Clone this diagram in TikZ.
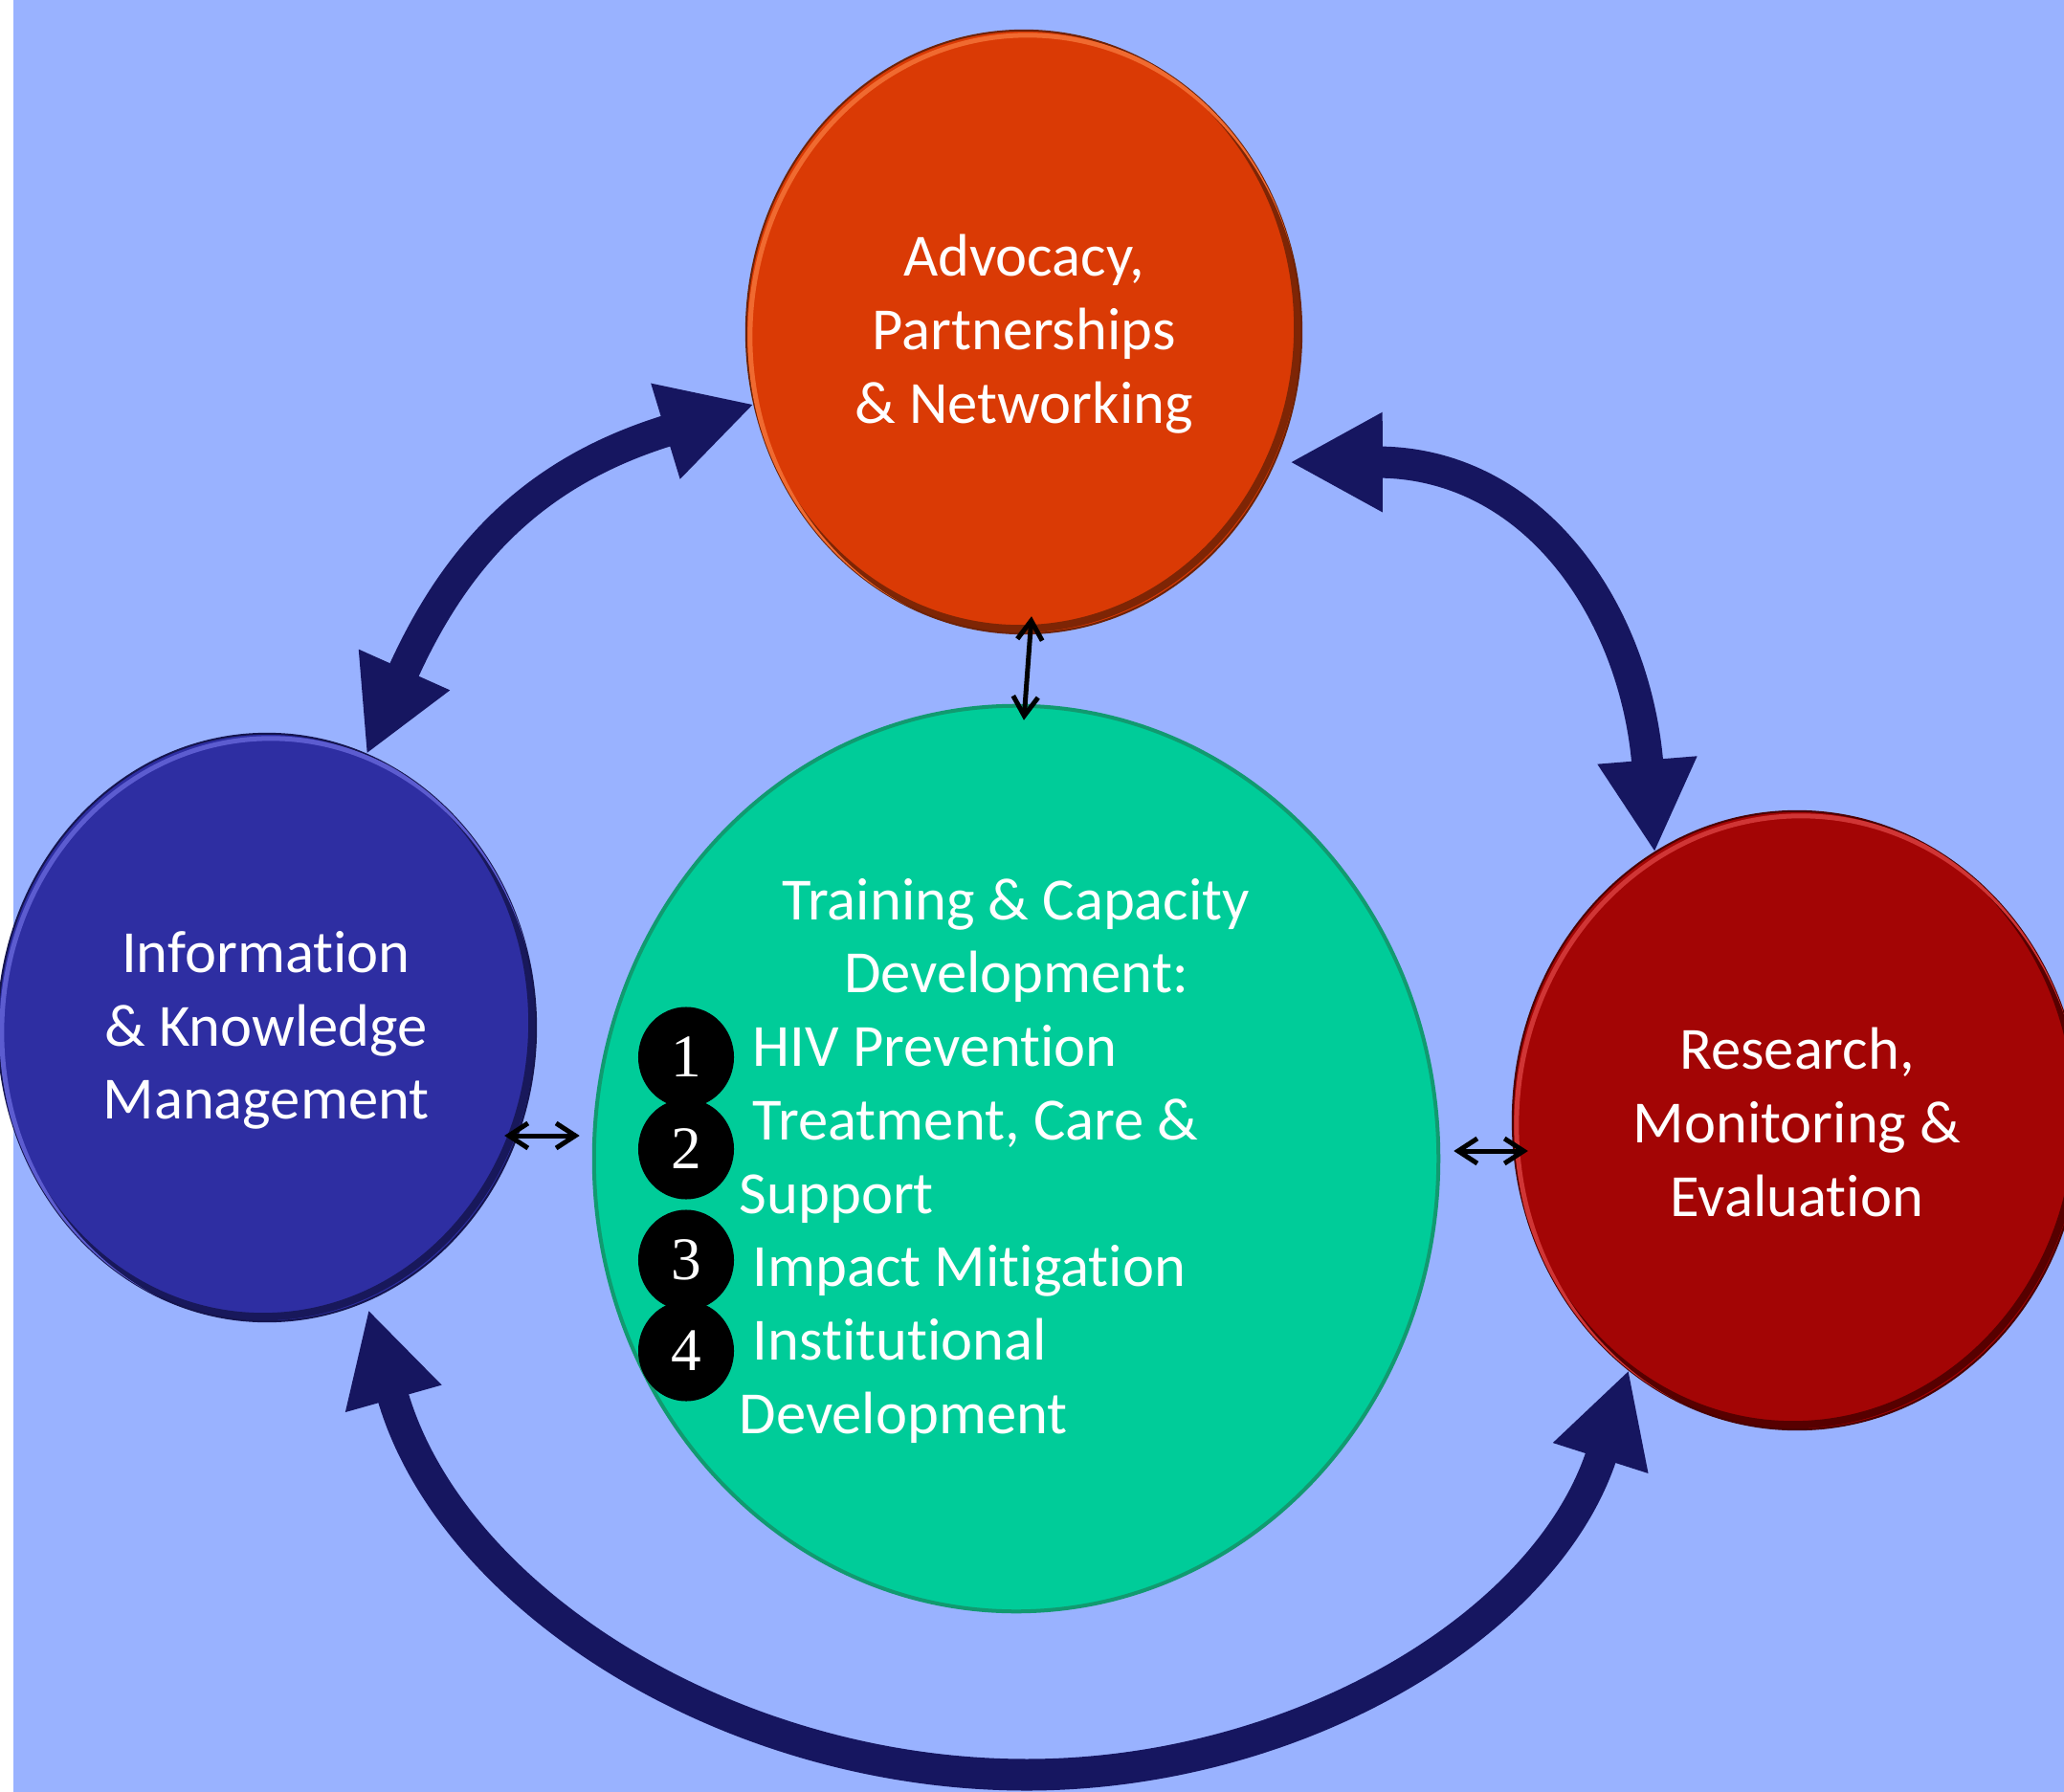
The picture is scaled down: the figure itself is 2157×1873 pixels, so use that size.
\documentclass[tikz,border=0pt]{standalone}
\usepackage{fontspec}
\setmainfont[Ligatures={NoCommon}]{Carlito}
\newfontfamily\numfont{Liberation Serif}
\usetikzlibrary{arrows.meta,calc,shapes.geometric}

\definecolor{bgblue}{HTML}{99B2FF}
\definecolor{topred}{HTML}{DA3A05}
\definecolor{toprim}{HTML}{6E2206}
\definecolor{toplight}{HTML}{F06A30}
\definecolor{leftblue}{HTML}{2E2EA2}
\definecolor{leftrim}{HTML}{15154F}
\definecolor{leftlight}{HTML}{5C5CD0}
\definecolor{rightred}{HTML}{A30505}
\definecolor{rightrim}{HTML}{4A0000}
\definecolor{rightlight}{HTML}{D03535}
\definecolor{greenfill}{HTML}{00CC99}
\definecolor{greenrim}{HTML}{119A70}
\definecolor{navy}{HTML}{161660}

\newcommand\bevelring[5]{%
  \begin{scope}
    \clip (#1.center) ellipse [x radius=#2, y radius=#3];
    \draw[#4, line width=0.08cm, opacity=0.85] ([shift={(-4,-5)}]#1.center) ellipse [x radius=#2, y radius=#3];
    \draw[#5, line width=0.05cm] ([shift={(4,5)}]#1.center) ellipse [x radius=#2, y radius=#3];
  \end{scope}}

\begin{document}
\begin{tikzpicture}[x=0.01cm,y=-0.01cm,
  bubble/.style={ellipse, outer sep=0pt, inner sep=0pt},
  txt/.style={text=white, align=center, font=\fontsize{17.8pt}{21.8pt}\selectfont, inner sep=0pt},
  bigarrow/.style={navy, line width=0.33cm, {Triangle[width=0.97cm,length=0.97cm]}-{Triangle[width=0.97cm,length=0.97cm]}},
  smallarrow/.style={black, line width=0.05cm, line cap=round, line join=round, {Straight Barb[length=0.2cm,width=0.26cm]}-{Straight Barb[length=0.2cm,width=0.26cm]}},
  numdot/.style={ellipse, fill=black, minimum width=1.0cm, minimum height=1.05cm, inner sep=0pt, text=white, font=\numfont\fontsize{18pt}{18pt}\selectfont}
]
\useasboundingbox (0,0) rectangle (2157,1873);
\clip (0,0) rectangle (2157,1873);
\fill[white] (0,0) rectangle (2157,1873);
\fill[bgblue] (14,0) rectangle (2157,1873);

% circles
\node[bubble, fill=topred, draw=toprim, line width=0.02cm, minimum width=5.8cm, minimum height=6.3cm] (apn) at (1070,347) {};
\node[bubble, fill=leftblue, draw=leftrim, line width=0.02cm, minimum width=5.62cm, minimum height=6.14cm] (ikm) at (279,1074) {};
\node[bubble, fill=rightred, draw=rightrim, line width=0.02cm, minimum width=5.94cm, minimum height=6.46cm] (rme) at (1878,1171) {};
\node[bubble, fill=greenfill, draw=greenrim, line width=0.04cm, minimum width=8.82cm, minimum height=9.46cm] (tcd) at (1062,1211) {};
\bevelring{apn}{2.9cm}{3.15cm}{toprim}{toplight}
\bevelring{ikm}{2.81cm}{3.07cm}{leftrim}{leftlight}
\bevelring{rme}{2.97cm}{3.23cm}{rightrim}{rightlight}

% big arrows
\draw[bigarrow] (ikm.70) .. controls (479,574) and (563,491) .. (apn.195);
\draw[bigarrow] ($(apn.334)+(13,7)$) .. controls (1603,483) and (1709,639) .. (rme.118);
\coordinate (bm) at (1073,1855);
\draw[bigarrow] ($(ikm.290)+(2,9)$) .. controls (470,1670) and (761,1855) .. (bm) .. controls (1352,1855) and (1616,1701) .. (rme.236);

% small arrows
\draw[smallarrow] ($(tcd.north)+(8,15)$) -- ($(apn.south)+(8,-18)$);
\draw[smallarrow] ($(ikm.east)+(-33,113)$) -- ($(tcd.west)+(-15,-24)$);
\draw[smallarrow] ($(tcd.east)+(16,-8)$) -- ($(rme.west)+(16,32)$);

% texts
\node[txt] (apnt) at (1070,349) {Advocacy,\\Partnerships\\\& Networking};
\node[txt] (ikmt) at (278,1077) {Information\\\& Knowledge\\Management};
\node[txt] (rmet) at (1878,1173) {Research,\\Monitoring \&\\Evaluation};
\node[txt] (tcdt) at (1062,983) {Training \& Capacity\\Development:};
\node[txt, align=left, anchor=west] (tcdl) at (772,1290) {\hspace*{0.14cm}HIV Prevention\\\hspace*{0.14cm}Treatment, Care \&\\Support\\\hspace*{0.14cm}Impact Mitigation\\\hspace*{0.14cm}Institutional\\Development};

% number dots
\node[numdot] (n1) at (717,1105) {1};
\node[numdot] (n2) at (717,1201) {2};
\node[numdot] (n3) at (717,1317) {3};
\node[numdot] (n4) at (717,1412) {4};
\end{tikzpicture}
\end{document}
